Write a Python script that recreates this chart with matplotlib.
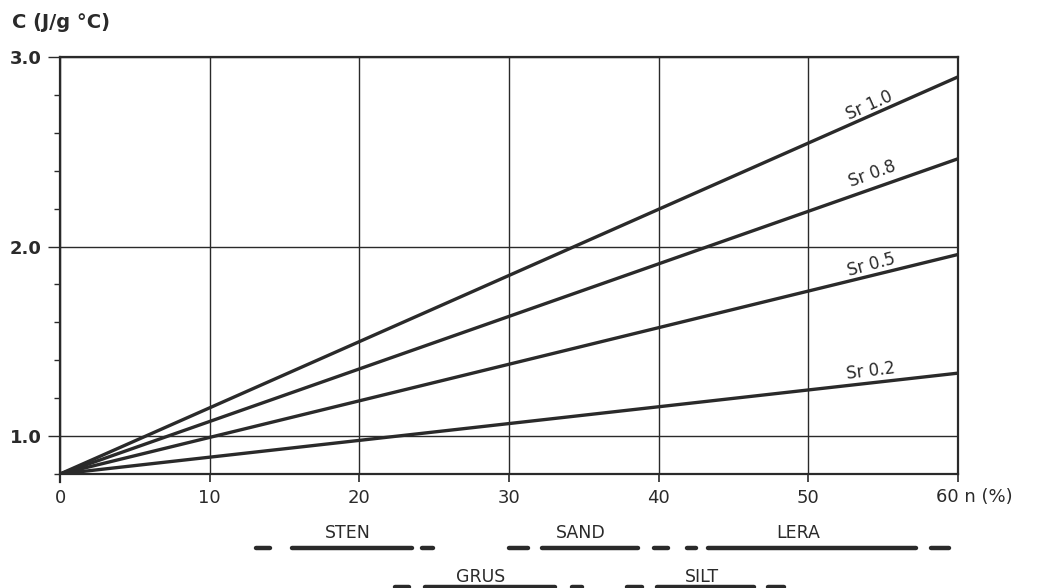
import matplotlib
matplotlib.use('Agg')
import matplotlib.pyplot as plt
from matplotlib.ticker import MultipleLocator

# porosity n (%) and specific heat C (J/g °C) for each degree of saturation
n_range = [0, 60]
sr_names = ['Sr 1.0', 'Sr 0.8', 'Sr 0.5', 'Sr 0.2']
c_at_0 = [0.8, 0.8, 0.8, 0.8]
c_at_60 = [2.895, 2.463, 1.958, 1.332]
sr_label_x = [54.1, 54.3, 54.2, 54.2]
sr_label_y = [2.745, 2.385, 1.905, 1.342]
sr_label_rot = [24, 20, 15, 7]

# soil type porosity ranges shown under the axis
row1_names = ['STEN', 'SAND', 'LERA']
row1_label_x = [19.2, 34.8, 49.3]
row1_segments = [(13.1, 14.0), (15.5, 23.5), (24.2, 24.9), (30.0, 31.3), (32.2, 38.6),
                 (39.7, 40.6), (41.9, 42.5), (43.3, 57.2), (58.2, 59.4)]
row2_names = ['GRUS', 'SILT']
row2_label_x = [28.1, 42.9]
row2_segments = [(22.4, 23.3), (24.4, 33.1), (34.2, 34.9), (37.9, 38.9), (39.9, 46.4), (47.3, 48.4)]

xticks = [0, 10, 20, 30, 40, 50, 60]
xtick_labels = ['0', '10', '20', '30', '40', '50', '']
yticks = [1.0, 2.0, 3.0]
ytick_labels = ['1.0', '2.0', '3.0']

ink = '#2a2a2a'
plt.rcParams['font.family'] = ['DejaVu Sans']

fig = plt.figure(figsize=(10.37, 5.88), dpi=100)
fig.patch.set_facecolor('white')
ax = fig.add_axes([0.0579, 0.1939, 0.8659, 0.7092])

ax.set_xlim(0, 60)
ax.set_ylim(0.8, 3.0)

for name, c0, c1 in zip(sr_names, c_at_0, c_at_60):
    ax.plot(n_range, [c0, c1], color=ink, lw=2.4, solid_capstyle='butt', zorder=3)

for name, lx, ly, rot in zip(sr_names, sr_label_x, sr_label_y, sr_label_rot):
    ax.text(lx, ly, name, rotation=rot, rotation_mode='anchor', ha='center', va='center',
            fontsize=12, color=ink)

# grid and frame
ax.set_xticks(xticks)
ax.set_xticklabels(xtick_labels)
ax.set_yticks(yticks)
ax.set_yticklabels(ytick_labels, fontweight='bold')
ax.yaxis.set_minor_locator(MultipleLocator(0.2))
ax.grid(True, which='major', color=ink, lw=1.0)
for s in ax.spines.values():
    s.set_color(ink)
    s.set_linewidth(1.6)
ax.tick_params(axis='y', which='major', length=9, width=1.0, color=ink, labelsize=13,
               labelcolor=ink, pad=4)
ax.tick_params(axis='y', which='minor', length=4.5, width=1.0, color=ink)
ax.tick_params(axis='x', which='major', length=6, width=1.2, color=ink, labelsize=13,
               labelcolor=ink, pad=5)
ax.spines['left'].set_bounds(0.76, 3.0)

ax.annotate('60 n (%)', xy=(60, 0), xycoords=('data', 'axes fraction'),
            xytext=(-16, -10), textcoords='offset points', ha='left', va='top',
            fontsize=13, color=ink)
fig.text(0.012, 0.962, 'C (J/g \u00b0C)', fontsize=14, fontweight='bold', color=ink,
         ha='left', va='center')

# soil type bars below the axis
tr = ax.get_xaxis_transform()
for x0, x1 in row1_segments:
    ax.plot([x0, x1], [-0.1775, -0.1775], transform=tr, color=ink, lw=3.2,
            solid_capstyle='round', clip_on=False)
for name, lx in zip(row1_names, row1_label_x):
    ax.text(lx, -0.141, name, transform=tr, ha='center', va='center', fontsize=12.5, color=ink)
for x0, x1 in row2_segments:
    ax.plot([x0, x1], [-0.271, -0.271], transform=tr, color=ink, lw=3.2,
            solid_capstyle='round', clip_on=False)
for name, lx in zip(row2_names, row2_label_x):
    ax.text(lx, -0.247, name, transform=tr, ha='center', va='center', fontsize=12.5, color=ink)

fig.savefig('out.png', dpi=100, facecolor='white')
